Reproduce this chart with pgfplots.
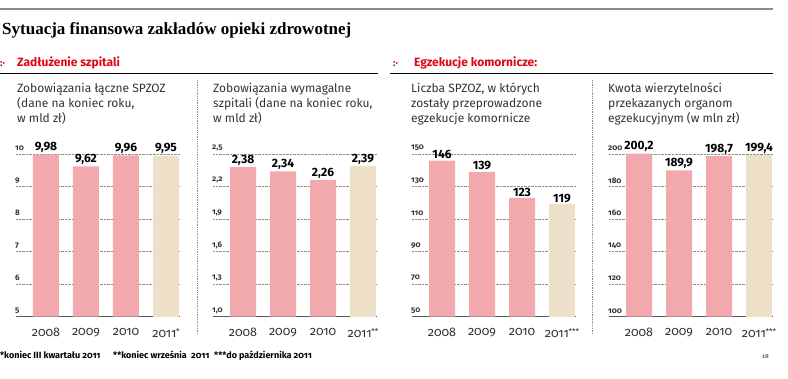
\documentclass[border=0pt]{standalone}
\usepackage{fontspec}
\setmainfont{Fira Sans}[Numbers=OldStyle]
\newfontfamily\titlefont{Liberation Serif}
\usepackage{pgfplots}
\pgfplotsset{compat=1.18}
\definecolor{pinkbar}{HTML}{F2A9AD}
\definecolor{beigebar}{HTML}{EEDFC8}
\definecolor{hdred}{HTML}{E30613}
\definecolor{txt}{HTML}{333333}
\newcommand{\st}[1]{\kern-0.3bp\raisebox{3.5bp}{\fontsize{8bp}{8bp}\selectfont #1}}
\pgfplotsset{
  panel/.style={
    anchor=south west,
    scale only axis, width=164bp, height=162.7bp,
    xmin=-0.75, xmax=3.35,
    ybar, bar width=26bp,
    axis lines*=left,
    y axis line style={draw=none},
    x axis line style={draw=black!65, line width=1.5bp},
    major tick length=0pt,
    ymajorgrids,
    grid style={densely dotted, line width=0.9bp, black!45},
    xtick={0,1,2,3},
    xticklabel style={font=\fontsize{12.5bp}{14bp}\selectfont, text=txt, anchor=north, yshift=-8bp},
    yticklabel style={font=\fontsize{8bp}{10bp}\selectfont\bfseries, text=txt, anchor=south west, inner xsep=0pt, inner ysep=1bp, xshift=-1bp, yshift=2bp},
    nodes near coords, point meta=explicit symbolic,
    every node near coord/.style={font=\fontsize{12bp}{14bp}\selectfont\bfseries\addfontfeatures{Numbers=Lining}, text=black, anchor=south, inner sep=1bp, yshift=0.5bp},
    clip=false,
  },
  pinkp/.style={fill=pinkbar, draw=none, bar shift=0pt},
  beigep/.style={fill=beigebar, draw=none, bar shift=0pt},
}
\begin{document}
\begin{tikzpicture}
\useasboundingbox (0,0) rectangle (788bp,379bp);
% top rule
\draw[line width=2bp, black!45] (0,370bp) -- (773bp,370bp);
% title
\node[anchor=base west, inner sep=0pt] at (2bp,344bp) {\titlefont\bfseries\fontsize{17bp}{20bp}\selectfont Sytuacja finansowa zakładów opieki zdrowotnej};
% section headers
\node[anchor=base west, inner sep=0pt, text=hdred!80!black] at (0bp,312.5bp) {\bfseries\fontsize{10bp}{12bp}\selectfont :·};
\node[anchor=base west, inner sep=0pt, text=hdred] at (17bp,312.5bp) {\bfseries\fontsize{12bp}{14bp}\selectfont Zadłużenie szpitali};
\node[anchor=base west, inner sep=0pt, text=hdred!80!black] at (393bp,312.5bp) {\bfseries\fontsize{10bp}{12bp}\selectfont :·};
\node[anchor=base west, inner sep=0pt, text=hdred] at (414bp,312.5bp) {\bfseries\fontsize{12bp}{14bp}\selectfont Egzekucje komornicze:};
\draw[line width=1.5bp, black] (0,305.5bp) -- (378bp,305.5bp);
\draw[line width=1.5bp, black] (390bp,305.5bp) -- (773bp,305.5bp);
% separators
\draw[densely dotted, line width=0.8bp, black!45] (197bp,299bp) -- (197bp,44bp);
\draw[densely dotted, line width=0.8bp, black!45] (592bp,299bp) -- (592bp,44bp);
% subtitles
\tikzset{sub/.style={anchor=north west, inner sep=0pt, align=left, text=txt, font=\fontsize{12bp}{15bp}\selectfont}}
\node[sub] at (17bp,296bp) {Zobowiązania łączne SPZOZ\\(dane na koniec roku,\\w mld zł)};
\node[sub] at (213bp,296bp) {Zobowiązania wymagalne\\szpitali (dane na koniec roku,\\w mld zł)};
\node[sub] at (411bp,296bp) {Liczba SPZOZ, w których\\zostały przeprowadzone\\egzekucje komornicze};
\node[sub] at (608bp,296bp) {Kwota wierzytelności\\przekazanych organom\\egzekucyjnym (w mln zł)};

% chart 1
\begin{axis}[panel, at={(16bp,62.3bp)},
  ymin=5, ymax=10, ytick={5,6,7,8,9,10}, yticklabels={5,6,7,8,9,10},
  xticklabels={2008,2009,2010,2011\st{*}}]
\addplot[pinkp] table[meta=l] {
x y l
0 9.98 9,98
1 9.62 9,62
2 9.96 9,96
};
\addplot[beigep] table[meta=l] {
x y l
3 9.95 9,95
};
\end{axis}

% chart 2
\begin{axis}[panel, at={(213bp,62.3bp)},
  ymin=1.0, ymax=2.5, ytick={1.0,1.3,1.6,1.9,2.2,2.5}, yticklabels={{1,0},{1,3},{1,6},{1,9},{2,2},{2,5}},
  xticklabels={2008,2009,2010,2011\st{**}}]
\addplot[pinkp] table[meta=l] {
x y l
0 2.38 2,38
1 2.34 2,34
2 2.26 2,26
};
\addplot[beigep] table[meta=l] {
x y l
3 2.39 2,39
};
\end{axis}

% chart 3
\begin{axis}[panel, at={(412bp,62.3bp)},
  ymin=50, ymax=150, ytick={50,70,90,110,130,150}, yticklabels={50,70,90,110,130,150},
  xticklabels={2008,2009,2010,2011\st{***}}]
\addplot[pinkp] table[meta=l] {
x y l
0 146 146
1 139 139
2 123 123
};
\addplot[beigep] table[meta=l] {
x y l
3 119 119
};
\end{axis}

% chart 4
\begin{axis}[panel, at={(609bp,62.3bp)},
  ymin=100, ymax=200, ytick={100,120,140,160,180,200}, yticklabels={100,120,140,160,180,200},
  xticklabels={2008,2009,2010,2011\st{***}}]
\addplot[pinkp] table[meta=l] {
x y l
0 200.2 200,2
1 189.9 189,9
2 198.7 198,7
};
\addplot[beigep] table[meta=l] {
x y l
3 199.4 199,4
};
\end{axis}

% footnotes
\tikzset{fn/.style={anchor=base west, inner sep=0pt, text=black, font=\fontsize{9bp}{10bp}\selectfont\bfseries}}
\node[fn] at (0bp,21bp) {*koniec III kwartału 2011};
\node[fn] at (113bp,21bp) {**koniec września\ \ 2011};
\node[fn] at (214bp,21bp) {***do października 2011};
\node[anchor=base east, inner sep=0pt, text=black!60, font=\fontsize{5.5bp}{6bp}\selectfont\bfseries] at (769bp,21bp) {ŁR};
\end{tikzpicture}
\end{document}
